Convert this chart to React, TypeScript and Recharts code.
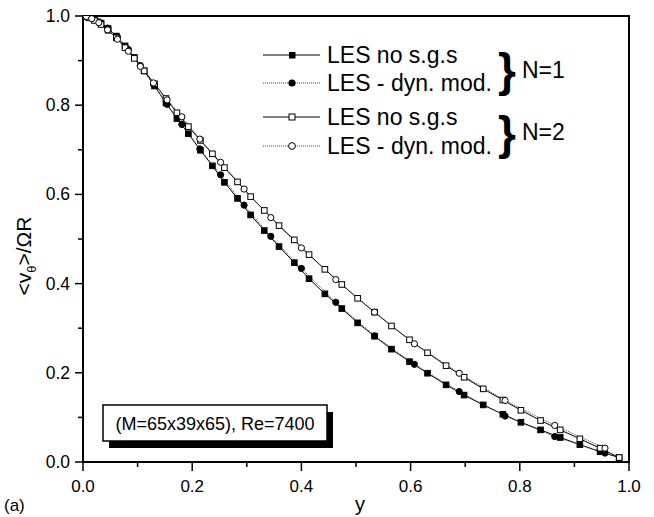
import React from "react";
import { LineChart, Line, XAxis, YAxis, ReferenceArea } from "recharts";

// radial grid shared by the two "no s.g.s" runs
const xNoSgs = [
  0, 0.004, 0.011, 0.021, 0.033, 0.046, 0.061, 0.077, 0.094, 0.112, 0.131, 0.152, 0.172, 0.193, 0.215, 0.237,
  0.259, 0.283, 0.307, 0.332, 0.359, 0.387, 0.414, 0.443, 0.474, 0.503, 0.534, 0.565, 0.598, 0.631, 0.665,
  0.698, 0.733, 0.769, 0.802, 0.838, 0.874, 0.91, 0.947, 0.982,
];
const n1NoSgs = [
  1.0, 0.999, 0.997, 0.992, 0.984, 0.972, 0.955, 0.933, 0.907, 0.877, 0.843, 0.805, 0.77, 0.736, 0.699, 0.664,
  0.627, 0.591, 0.554, 0.519, 0.483, 0.447, 0.411, 0.377, 0.344, 0.312, 0.282, 0.253, 0.225, 0.199, 0.173,
  0.15, 0.128, 0.107, 0.089, 0.072, 0.055, 0.039, 0.023, 0.01,
];
const n2NoSgs = [
  1.0, 0.999, 0.996, 0.99, 0.981, 0.968, 0.951, 0.929, 0.905, 0.877, 0.848, 0.815, 0.783, 0.752, 0.721, 0.691,
  0.66, 0.628, 0.595, 0.564, 0.53, 0.498, 0.465, 0.432, 0.398, 0.367, 0.336, 0.305, 0.274, 0.245, 0.216,
  0.19, 0.164, 0.139, 0.116, 0.093, 0.072, 0.052, 0.031, 0.01,
];

// dynamic model runs
const xDyn = [
  0, 0.006, 0.016, 0.029, 0.045, 0.063, 0.083, 0.105, 0.129, 0.154, 0.181, 0.214, 0.252, 0.295, 0.344, 0.4,
  0.463, 0.534, 0.607, 0.689, 0.773, 0.864, 0.956,
];
const n1Dyn = [
  1.0, 0.999, 0.995, 0.987, 0.973, 0.953, 0.925, 0.889, 0.847, 0.802, 0.757, 0.702, 0.644, 0.576, 0.506, 0.434,
  0.358, 0.283, 0.219, 0.158, 0.103, 0.057, 0.02,
];
const n2Dyn = [
  1.0, 0.999, 0.994, 0.985, 0.969, 0.948, 0.921, 0.887, 0.85, 0.812, 0.774, 0.724, 0.672, 0.612, 0.548, 0.48,
  0.409, 0.336, 0.265, 0.199, 0.138, 0.082, 0.031,
];

const xTicks = [0, 0.1, 0.2, 0.3, 0.4, 0.5, 0.6, 0.7, 0.8, 0.9, 1];
const yTicks = [0, 0.1, 0.2, 0.3, 0.4, 0.5, 0.6, 0.7, 0.8, 0.9, 1];

const FONT = '"Liberation Sans", Arial, Helvetica, sans-serif';

const zip = (xs: number[], ys: number[]) => xs.map((x, i) => ({ x, y: ys[i] }));

const isMajor = (v: number) => Math.round(v * 10) % 2 === 0;

function XTick({ x, y, payload }: any) {
  const v = payload.value;
  const major = isMajor(v);
  return (
    <g>
      <line x1={x} y1={y} x2={x} y2={y + (major ? 9 : 5)} stroke="#000" strokeWidth={1.5} />
      {major && (
        <text x={x} y={y + 30} textAnchor="middle" fontSize={17} fontFamily={FONT} fill="#000">
          {v.toFixed(1)}
        </text>
      )}
    </g>
  );
}

function YTick({ x, y, payload }: any) {
  const v = payload.value;
  const major = isMajor(v);
  return (
    <g>
      <line x1={x} y1={y} x2={x - (major ? 8 : 5)} y2={y} stroke="#000" strokeWidth={1.5} />
      {major && (
        <text x={x - 13} y={y + 6} textAnchor="end" fontSize={17.5} fontFamily={FONT} fill="#000">
          {v.toFixed(1)}
        </text>
      )}
    </g>
  );
}

const squareDot = (filled: boolean) => (p: any) => (
  <rect
    key={`sq-${p.index}`}
    x={p.cx - 2.8}
    y={p.cy - 2.8}
    width={5.6}
    height={5.6}
    fill={filled ? "#000" : "#fff"}
    stroke="#000"
    strokeWidth={1}
  />
);

const circleDot = (filled: boolean) => (p: any) => (
  <circle key={`ci-${p.index}`} cx={p.cx} cy={p.cy} r={3.1} fill={filled ? "#000" : "#fff"} stroke="#000" strokeWidth={1} />
);

function LegendRow({ y, dotted, marker, label }: { y: number; dotted: boolean; marker: React.ReactNode; label: string }) {
  return (
    <g>
      <line
        x1={263}
        y1={y}
        x2={320}
        y2={y}
        stroke={dotted ? "#444" : "#000"}
        strokeWidth={1}
        strokeDasharray={dotted ? "1 1" : undefined}
      />
      {marker}
      <text x={327} y={y + 8} fontSize={23} fontFamily={FONT} fill="#000">
        {label}
      </text>
    </g>
  );
}

export default function App() {
  const s1 = zip(xNoSgs, n1NoSgs);
  const s2 = zip(xNoSgs, n2NoSgs);
  const d1 = zip(xDyn, n1Dyn);
  const d2 = zip(xDyn, n2Dyn);

  return (
    <div style={{ position: "absolute", left: 0, top: 0, width: 654, height: 517, background: "#fff" }}>
      <LineChart width={654} height={517} margin={{ top: 16, right: 25, left: 0, bottom: 0 }}>
        <XAxis
          type="number"
          dataKey="x"
          domain={[0, 1]}
          ticks={xTicks}
          interval={0}
          tick={XTick}
          tickLine={false}
          axisLine={false}
          tickSize={0}
          tickMargin={0}
          height={55}
          allowDataOverflow
        />
        <YAxis
          type="number"
          domain={[0, 1]}
          ticks={yTicks}
          interval={0}
          tick={YTick}
          tickLine={false}
          axisLine={false}
          tickSize={0}
          tickMargin={0}
          width={83}
          allowDataOverflow
        />
        <ReferenceArea x1={0} x2={1} y1={0} y2={1} fill="none" stroke="#000" strokeWidth={2} />
        <Line data={s1} dataKey="y" type="linear" stroke="#000" strokeWidth={1} dot={squareDot(true)} isAnimationActive={false} />
        <Line data={d1} dataKey="y" type="linear" stroke="#444" strokeWidth={1} strokeDasharray="1 1" dot={circleDot(true)} isAnimationActive={false} />
        <Line data={s2} dataKey="y" type="linear" stroke="#000" strokeWidth={1} dot={squareDot(false)} isAnimationActive={false} />
        <Line data={d2} dataKey="y" type="linear" stroke="#444" strokeWidth={1} strokeDasharray="1 1" dot={circleDot(false)} isAnimationActive={false} />
      </LineChart>

      <svg width={654} height={517} style={{ position: "absolute", left: 0, top: 0, pointerEvents: "none" }}>
        <LegendRow y={55} dotted={false} label="LES no s.g.s" marker={<rect x={289} y={52} width={6.5} height={6.5} fill="#000" />} />
        <LegendRow y={83} dotted label="LES - dyn. mod." marker={<circle cx={292} cy={83} r={3.6} fill="#000" />} />
        <LegendRow y={117} dotted={false} label="LES no s.g.s" marker={<rect x={289} y={114} width={6} height={6} fill="#fff" stroke="#000" />} />
        <LegendRow y={146} dotted label="LES - dyn. mod." marker={<circle cx={292} cy={146} r={3.4} fill="#fff" stroke="#000" />} />

        <text x={498} y={86} fontSize={46} fontWeight="bold" fontFamily={FONT} fill="#000">{"}"}</text>
        <text x={522} y={78} fontSize={23} fontFamily={FONT} fill="#000">N=1</text>
        <text x={498} y={149} fontSize={46} fontWeight="bold" fontFamily={FONT} fill="#000">{"}"}</text>
        <text x={522} y={140} fontSize={23} fontFamily={FONT} fill="#000">N=2</text>

        <rect x={109} y={412} width={224} height={36} fill="#000" />
        <rect x={103} y={405} width={224} height={36} fill="#fff" stroke="#000" strokeWidth={1.5} />
        <text x={215} y={430} textAnchor="middle" fontSize={18} fontFamily={FONT} fill="#000">
          (M=65x39x65), Re=7400
        </text>

        <text transform="translate(31,256) rotate(-90)" textAnchor="middle" fontSize={21} fontFamily={FONT} fill="#000">
          {"<v"}
          <tspan fontSize={13} dy={5}>θ</tspan>
          <tspan dy={-5}>{">/ΩR"}</tspan>
        </text>

        <text x={360} y={511} textAnchor="middle" fontSize={20} fontFamily={FONT} fill="#000">y</text>
        <text x={4} y={511} fontSize={17} fontFamily={FONT} fill="#000">(a)</text>
      </svg>
    </div>
  );
}
